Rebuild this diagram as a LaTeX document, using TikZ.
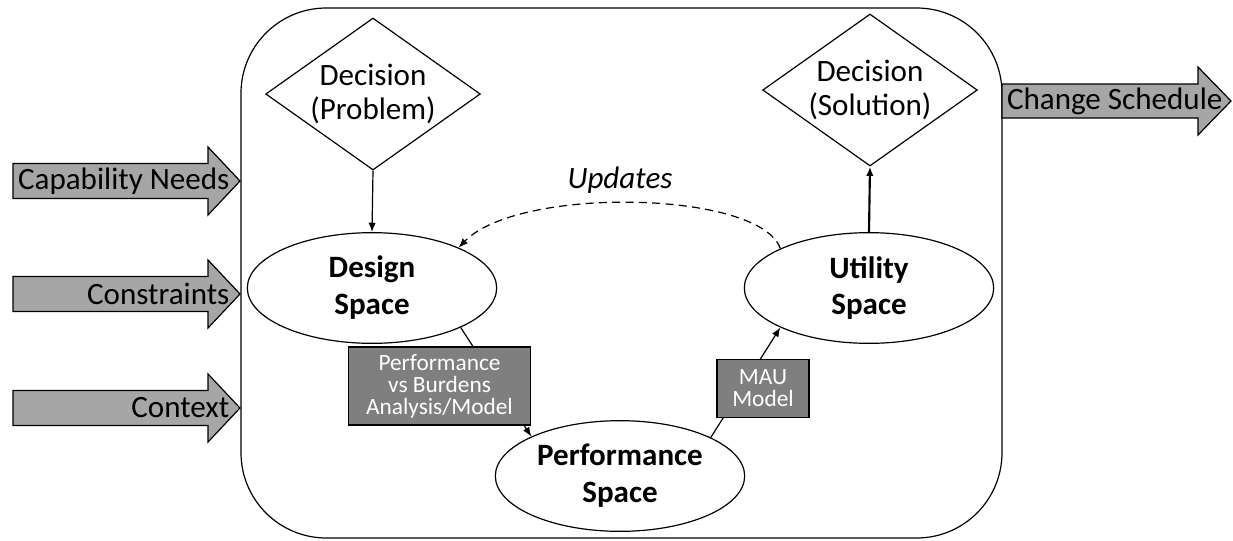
\documentclass[tikz,border=0pt]{standalone}
\usepackage{fontspec}
\setmainfont{Carlito}
\usetikzlibrary{shapes.geometric,arrows.meta}
\definecolor{arrowgray}{HTML}{A6A6A6}
\definecolor{modelgray}{HTML}{7F7F7F}
\tikzset{
  decision/.style={diamond, draw, aspect=1.414, inner sep=0pt,
    minimum width=161pt, minimum height=114pt, align=center,
    font=\fontsize{23.3}{26}\selectfont},
  space/.style={ellipse, draw, inner sep=0pt, minimum width=187pt,
    minimum height=83pt, align=center,
    font=\fontsize{23.3}{27.7}\selectfont\bfseries},
  model/.style={draw, fill=modelgray, text=white, align=center,
    inner sep=0pt, font=\fontsize{17.5}{16.5}\selectfont},
  flowarrow/.style={draw, fill=arrowgray},
  flowtext/.style={inner sep=0pt, anchor=east,
    font=\fontsize{23.3}{27}\selectfont},
  link/.style={-{Latex[length=7pt, width=5.5pt]}},
}
\begin{document}
\begin{tikzpicture}[x=0.75pt, y=-0.75pt, line width=0.9pt]
    \useasboundingbox (0,0) rectangle (1233,540);
    \draw[rounded corners=64pt] (241,8) rectangle (1002,538);
    % inputs and output
    \foreach \yc/\txt [count=\i] in
      {181/Capability Needs, 294/Constraints, 408/Context} {
      \draw[flowarrow] (13,\yc-17.5) -- (208,\yc-17.5) -- (208,\yc-34)
        -- (240,\yc) -- (208,\yc+34) -- (208,\yc+17.5)
        -- (13,\yc+17.5) -- cycle;
      \node[flowtext] (in\i) at (230,\yc) {\txt};
    }
    \draw[flowarrow] (1002,84) -- (1198,84) -- (1198,67) -- (1231,101)
      -- (1198,135) -- (1198,118) -- (1002,118) -- cycle;
    \node[flowtext] (out) at (1223,101) {Change Schedule};
    % decisions and spaces
    \node[decision] (problem) at (373,94) {Decision\\(Problem)};
    \node[decision] (solution) at (870,90) {Decision\\(Solution)};
    \node[space] (design) at (372,288) {Design\\Space};
    \node[space] (utility) at (869,288) {Utility\\Space};
    \node[space] (perf) at (620,476) {Performance\\Space};
    \draw[link] (problem.south) -- (design.north);
    \draw[link, line width=1.6pt] (utility.north) -- (solution.south);
    \draw[link] (design.-24) -- (perf.156);
    \draw[link] (perf.23) -- (utility.-156);
    \draw[link, dash pattern=on 6pt off 4pt]
      (utility.156) .. controls +(-20,-58) and +(60,-62) .. (design.25);
    \node[font=\fontsize{23.3}{27}\selectfont\itshape] (updates)
      at (620,180) {Updates};
    % models on the connectors
    \node[model, minimum width=137pt, minimum height=58.5pt] (pvb)
      at (439.5,386) {Performance\\vs Burdens\\Analysis/Model};
    \node[model, minimum width=69pt, minimum height=43pt] (mau)
      at (763,388.5) {MAU\\Model};
\end{tikzpicture}
\end{document}
